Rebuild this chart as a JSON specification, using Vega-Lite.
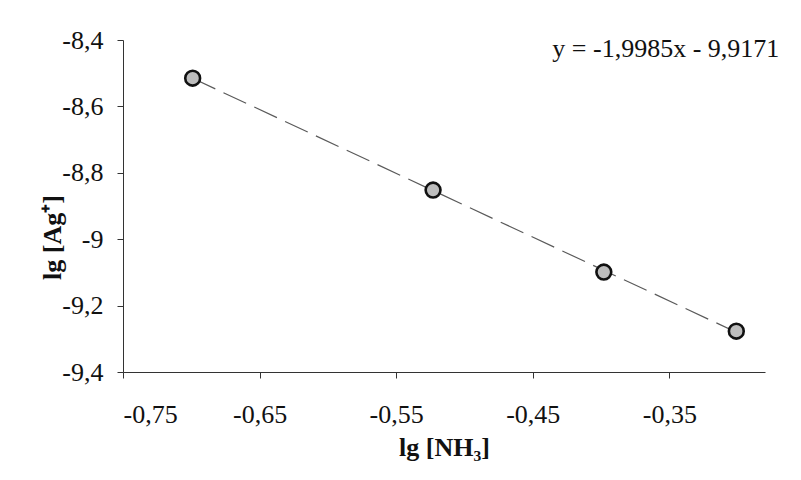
{
  "$schema": "https://vega.github.io/schema/vega-lite/v6.json",
  "autosize": {"type": "none"},
  "width": 642,
  "height": 332,
  "padding": {"left": 123, "top": 40, "right": 36, "bottom": 108},
  "background": "white",
  "config": {
    "view": {"stroke": null},
    "font": "Liberation Serif"
  },
  "datasets": {
    "pts": [
      {"lgNH3": -0.699, "lgAg": -8.515},
      {"lgNH3": -0.523, "lgAg": -8.852},
      {"lgNH3": -0.398, "lgAg": -9.099},
      {"lgNH3": -0.301, "lgAg": -9.277}
    ],
    "eq": [
      {"x": -0.2695, "y": -8.452, "label": "y = -1,9985x - 9,9171"}
    ]
  },
  "layer": [
    {
      "data": {"name": "pts"},
      "transform": [{"regression": "lgAg", "on": "lgNH3"}],
      "mark": {"type": "line", "color": "#5a5a5a", "strokeWidth": 1.2, "strokeDash": [25, 9], "clip": false},
      "encoding": {
        "x": {"field": "lgNH3", "type": "quantitative"},
        "y": {"field": "lgAg", "type": "quantitative"}
      }
    },
    {
      "data": {"name": "pts"},
      "mark": {"type": "point", "filled": true, "fill": "#bdbdbd", "stroke": "#111111", "strokeWidth": 2.6, "size": 220, "opacity": 1, "clip": false},
      "encoding": {
        "x": {
          "field": "lgNH3", "type": "quantitative",
          "scale": {"domain": [-0.75, -0.28], "nice": false, "zero": false},
          "axis": {
            "title": "lg [NH₃]",
            "values": [-0.75, -0.65, -0.55, -0.45, -0.35],
            "labelExpr": "replace(toString(datum.value), '.', ',')",
            "grid": false,
            "domainColor": "#333333",
            "tickColor": "#333333",
            "tickSize": 6,
            "labelFont": "Liberation Serif",
            "labelFontSize": 26,
            "labelColor": "#111111",
            "labelPadding": 23,
            "titleFont": "Liberation Serif",
            "titleFontSize": 26,
            "titleFontWeight": "bold",
            "titleColor": "#111111",
            "titlePadding": 7
          }
        },
        "y": {
          "field": "lgAg", "type": "quantitative",
          "scale": {"domain": [-9.4, -8.4], "nice": false, "zero": false},
          "axis": {
            "title": "lg [Ag⁺]",
            "values": [-8.4, -8.6, -8.8, -9, -9.2, -9.4],
            "labelExpr": "replace(toString(datum.value), '.', ',')",
            "grid": false,
            "domainColor": "#333333",
            "tickColor": "#333333",
            "tickSize": 6,
            "labelFont": "Liberation Serif",
            "labelFontSize": 26,
            "labelColor": "#111111",
            "labelPadding": 14,
            "titleFont": "Liberation Serif",
            "titleFontSize": 26,
            "titleFontWeight": "bold",
            "titleColor": "#111111",
            "titleAngle": 270,
            "titleAlign": "center",
            "titleBaseline": "alphabetic",
            "titleX": -63,
            "titleY": 197
          }
        }
      }
    },
    {
      "data": {"name": "eq"},
      "mark": {"type": "text", "align": "right", "baseline": "alphabetic", "font": "Liberation Serif", "fontSize": 26, "color": "#111111", "clip": false},
      "encoding": {
        "x": {"field": "x", "type": "quantitative"},
        "y": {"field": "y", "type": "quantitative"},
        "text": {"field": "label"}
      }
    }
  ]
}
